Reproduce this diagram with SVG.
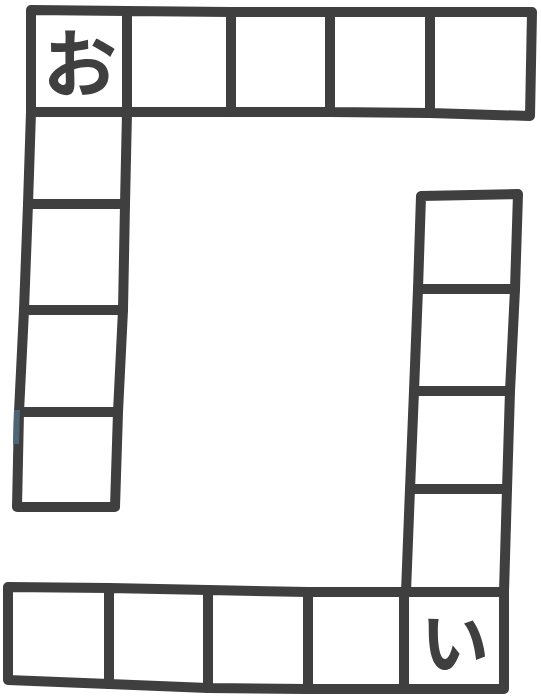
<svg xmlns="http://www.w3.org/2000/svg" width="541" height="700" viewBox="0 0 541 700">
<style>
.c{fill:none;stroke:#3f3f3f;stroke-width:10;stroke-linejoin:round;stroke-linecap:round}
.k{font-family:"Noto Sans CJK JP","Noto Sans CJK SC",sans-serif;font-weight:bold;fill:#3f3f3f;text-anchor:middle}
</style>
<rect width="541" height="700" fill="#ffffff"/>
<g id="top-row">
<g id="t1"><path class="c" d="M31,10 L127,11 L127,112 L31,112 Z"/><text class="k" x="80" y="91" font-size="74">お</text></g>
<g id="t2"><path class="c" d="M127,11 L231,12 L231,112 L127,112 Z"/></g>
<g id="t3"><path class="c" d="M231,12 L330,12 L330,112 L231,112 Z"/></g>
<g id="t4"><path class="c" d="M330,12 L430,12 L430,113 L330,112 Z"/></g>
<g id="t5"><path class="c" d="M430,12 L532,12 L530,116 L430,113 Z"/></g>
</g>
<g id="left-col">
<g id="l1"><path class="c" d="M31,112 L127,112 L125,204 L28,204 Z"/></g>
<g id="l2"><path class="c" d="M28,204 L125,204 L123,310 L24,310 Z"/></g>
<g id="l3"><path class="c" d="M24,310 L123,310 L118,412 L19,412 Z"/></g>
<g id="l4"><path class="c" d="M19,412 L118,412 L115,507 L17,507 Z"/><path d="M17,410 L16,444" stroke="#4f6573" stroke-width="6" fill="none"/></g>
</g>
<g id="right-col">
<g id="r1"><path class="c" d="M421,196 L518,194 L515,289 L418,289 Z"/></g>
<g id="r2"><path class="c" d="M418,289 L515,289 L510,391 L414,391 Z"/></g>
<g id="r3"><path class="c" d="M414,391 L510,391 L507,489 L410,489 Z"/></g>
<g id="r4"><path class="c" d="M410,489 L507,489 L504,592 L406,592 Z"/></g>
</g>
<g id="bottom-row">
<g id="b1"><path class="c" d="M8,587 L109,588 L109,684 L8,680 Z"/></g>
<g id="b2"><path class="c" d="M109,588 L208,590 L208,688 L109,684 Z"/></g>
<g id="b3"><path class="c" d="M208,590 L308,592 L308,689 L208,688 Z"/></g>
<g id="b4"><path class="c" d="M308,592 L404,592 L404,689 L308,689 Z"/></g>
<g id="b5"><path class="c" d="M404,592 L504,592 L504,689 L404,689 Z"/><text class="k" x="455" y="668" font-size="68">い</text></g>
</g>
<g id="connectors"/>
</svg>
